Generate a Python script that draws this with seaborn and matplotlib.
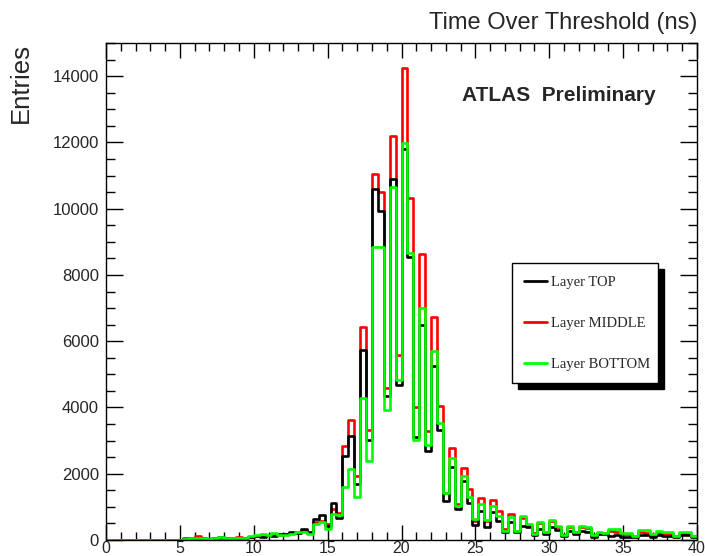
import numpy as np
import pandas as pd
import matplotlib
matplotlib.use("Agg")
import matplotlib.pyplot as plt
from matplotlib.lines import Line2D
from matplotlib.ticker import MultipleLocator
import seaborn as sns

# Time-over-threshold histogram, 100 bins of 0.4 ns from 0 to 40 ns
n_bins = 100
tot_range = (0.0, 40.0)
tot_edges = np.linspace(tot_range[0], tot_range[1], n_bins + 1)
tot_centres = 0.5 * (tot_edges[:-1] + tot_edges[1:])

layer_top = [
    0, 0, 0, 0, 0, 5, 5, 5, 5, 10, 10, 10, 10,
    40, 50, 60, 50, 40, 60, 90, 50, 60, 40, 70, 90,
    130, 100, 160, 110, 170, 190, 250, 200, 330, 230,
    630, 750, 430, 1110, 650,
    2530, 3130, 1680, 5740, 3030,
    10590, 9940, 4360, 10890, 4680,
    11790, 8540, 3100, 6490, 2700,
    5240, 3330, 1180, 2210, 930,
    1780, 1130, 440, 880, 380,
    830, 580, 230, 530, 230,
    430, 380, 150, 330, 180,
    380, 300, 130, 280, 180,
    260, 250, 100, 180, 170,
    120, 150, 80, 100, 90,
    150, 140, 90, 160, 120,
    120, 80, 150, 140, 90,
]
layer_middle = [
    0, 0, 0, 0, 0, 5, 5, 5, 5, 10, 10, 10, 10,
    50, 60, 110, 60, 40, 50, 70, 60, 50, 80, 60, 100,
    120, 110, 150, 140, 160, 170, 220, 230, 300, 200,
    550, 580, 480, 950, 800,
    2850, 3630, 1930, 6420, 3330,
    11060, 10490, 4600, 12190, 5590,
    14260, 10320, 4010, 8620, 3280,
    6740, 4030, 1410, 2780, 1080,
    2180, 1530, 580, 1280, 580,
    1210, 880, 330, 780, 280,
    650, 460, 200, 500, 230,
    580, 380, 160, 380, 250,
    380, 350, 140, 220, 200,
    260, 250, 180, 170, 110,
    230, 220, 140, 220, 180,
    180, 110, 200, 190, 110,
]
layer_bottom = [
    0, 0, 0, 0, 0, 5, 5, 5, 5, 10, 10, 10, 10,
    40, 50, 60, 60, 30, 50, 100, 60, 50, 50, 60, 120,
    150, 190, 140, 200, 160, 140, 180, 230, 250, 180,
    480, 530, 330, 780, 750,
    1610, 2150, 1300, 4290, 2370,
    8840, 8840, 3930, 10660, 4830,
    11990, 8660, 3030, 7000, 2880,
    5690, 3530, 1430, 2460, 1030,
    1920, 1300, 620, 1080, 600,
    1040, 730, 280, 680, 260,
    730, 480, 180, 530, 230,
    610, 410, 150, 410, 250,
    410, 380, 150, 230, 220,
    330, 330, 210, 200, 130,
    310, 300, 180, 280, 230,
    230, 130, 250, 250, 130,
]

layer_names = ["Layer TOP", "Layer MIDDLE", "Layer BOTTOM"]
layer_colors = {"Layer TOP": "#000000", "Layer MIDDLE": "#ff0000", "Layer BOTTOM": "#00ff00"}
layer_counts = {"Layer TOP": layer_top, "Layer MIDDLE": layer_middle, "Layer BOTTOM": layer_bottom}

df = pd.concat(
    [pd.DataFrame({"tot": tot_centres, "entries": layer_counts[n], "layer": n}) for n in layer_names],
    ignore_index=True,
)

sns.set_style("ticks")
plt.rcParams["font.family"] = ["Liberation Sans", "DejaVu Sans"]

fig = plt.figure(figsize=(7.05, 5.56), dpi=100)
ax = fig.add_axes([106 / 705, 1 - 540 / 556, 591 / 705, 497 / 556])

# middle first, top over it, bottom layer drawn last
for name in ["Layer MIDDLE", "Layer TOP", "Layer BOTTOM"]:
    sns.histplot(
        data=df[df["layer"] == name], x="tot", weights="entries",
        bins=n_bins, binrange=tot_range, element="step", fill=False,
        color=layer_colors[name], linewidth=1.9, ax=ax,
    )

ax.set_xlim(*tot_range)
ax.set_ylim(0, 15000)
ax.xaxis.set_major_locator(MultipleLocator(5))
ax.xaxis.set_minor_locator(MultipleLocator(1))
ax.yaxis.set_major_locator(MultipleLocator(2000))
ax.yaxis.set_minor_locator(MultipleLocator(500))
ax.tick_params(which="both", direction="in", top=True, right=True,
               width=1.0, color="black", labelsize=12)
ax.tick_params(axis="x", which="major", length=11, pad=1, labelsize=11.5)
ax.tick_params(axis="x", which="minor", length=5.5)
ax.tick_params(axis="y", which="major", length=12, pad=5)
ax.tick_params(axis="y", which="minor", length=6.5)
for sp in ax.spines.values():
    sp.set_linewidth(1.0)
    sp.set_color("black")

ax.xaxis.set_label_position("top")
ax.set_xlabel("Time Over Threshold (ns)", loc="right", fontsize=17, labelpad=10)
ax.set_ylabel("Entries", loc="top", fontsize=18.5)
ax.yaxis.label.set_va("center")
ax.yaxis.set_label_coords(-85 / 591, 1.0)

ax.text(0.602, 0.895, "ATLAS  Preliminary", transform=ax.transAxes,
        fontsize=15, fontweight="bold", ha="left", va="center")

handles = [Line2D([], [], color=layer_colors[n], linewidth=2.0) for n in layer_names]
leg = ax.legend(
    handles, layer_names, loc="upper left",
    bbox_to_anchor=(0.687, 0.306, 0.247, 0.251), mode="expand",
    borderaxespad=0, fancybox=False, frameon=True, framealpha=1,
    edgecolor="black", borderpad=0.85, labelspacing=1.9,
    handlelength=1.55, handletextpad=0.25,
    shadow={"ox": 4, "oy": -4, "color": "black", "alpha": 1},
    prop={"family": "Liberation Serif", "size": 10.5},
)
leg.get_frame().set_linewidth(1.0)

fig.savefig("out.png", dpi=100, facecolor="white")
